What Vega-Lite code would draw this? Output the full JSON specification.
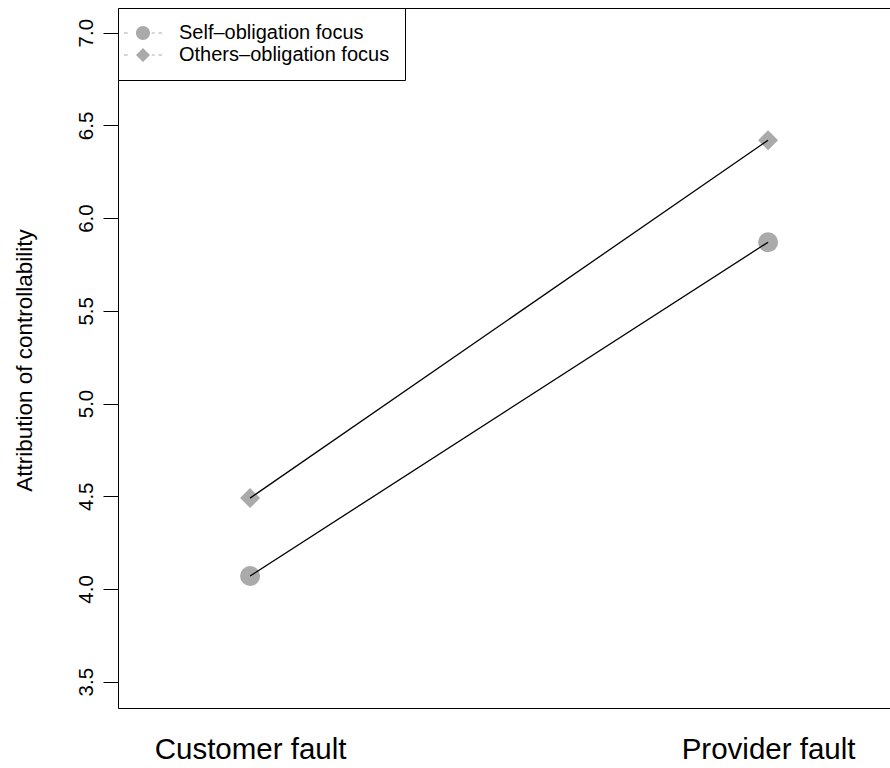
{
  "$schema": "https://vega.github.io/schema/vega-lite/v6.json",
  "width": 772,
  "height": 700,
  "autosize": "none",
  "padding": {"left": 118, "top": 8, "right": 0, "bottom": 60},
  "background": "white",
  "config": {
    "font": "Liberation Sans",
    "view": {"stroke": null},
    "axis": {"grid": false, "domainColor": "black", "domainWidth": 1, "tickColor": "black", "labelColor": "black", "titleColor": "black", "titleFontWeight": "normal", "labelLimit": 0}
  },
  "data": {
    "values": [
      {"fault": "Customer fault", "group": "Self–obligation focus", "value": 4.07},
      {"fault": "Provider fault", "group": "Self–obligation focus", "value": 5.87},
      {"fault": "Customer fault", "group": "Others–obligation focus", "value": 4.49},
      {"fault": "Provider fault", "group": "Others–obligation focus", "value": 6.42}
    ]
  },
  "layer": [
    {
      "mark": {"type": "point", "filled": true, "color": "#aaaaaa", "opacity": 1, "size": 400},
      "encoding": {
        "x": {
          "field": "fault", "type": "nominal", "sort": ["Customer fault", "Provider fault"],
          "scale": {"type": "point", "padding": 0.2452, "align": 0.52},
          "axis": {"orient": "bottom", "title": null, "ticks": false, "tickSize": 0, "labelFontSize": 29.5, "labelPadding": 50, "labelBaseline": "alphabetic", "labelAngle": 0, "labelLimit": 0}
        },
        "y": {
          "field": "value", "type": "quantitative",
          "scale": {"domain": [3.358, 7.133], "nice": false, "zero": false},
          "axis": {
            "title": "Attribution of controllability", "titleFontSize": 22.5, "titleAngle": -90,
            "titleX": -94, "titleY": 352, "titleAlign": "center", "titleBaseline": "middle",
            "values": [3.5, 4, 4.5, 5, 5.5, 6, 6.5, 7], "format": ".1f",
            "tickSize": 15, "labelFontSize": 20.5, "labelAngle": -90, "labelAlign": "center",
            "labelBaseline": "alphabetic", "labelPadding": 11
          }
        },
        "shape": {
          "field": "group", "type": "nominal",
          "scale": {"domain": ["Self–obligation focus", "Others–obligation focus"], "range": ["circle", "diamond"]},
          "legend": null
        }
      }
    },
    {
      "mark": {"type": "line", "color": "black", "strokeWidth": 1.3},
      "encoding": {
        "x": {"field": "fault", "type": "nominal", "sort": ["Customer fault", "Provider fault"], "axis": null},
        "y": {"field": "value", "type": "quantitative", "title": "Attribution of controllability"},
        "detail": {"field": "group"}
      }
    },
    {
      "mark": {"type": "point", "filled": true, "color": "#aaaaaa", "opacity": 0},
      "encoding": {
        "x": {
          "field": "fault", "type": "nominal", "sort": ["Customer fault", "Provider fault"],
          "axis": {"orient": "top", "title": null, "labels": false, "ticks": false, "domain": true}
        },
        "y": {"field": "value", "type": "quantitative", "title": "Attribution of controllability"},
        "shape": {
          "field": "group", "type": "nominal",
          "scale": {
            "domain": ["Self–obligation focus", "Others–obligation focus"],
            "range": [
              "M-2.375,-0.07L-1.9,-0.07L-1.9,0.07L-2.375,0.07Z M1.1,-0.07L1.45,-0.07L1.45,0.07L1.1,0.07Z M1.95,-0.07L2.375,-0.07L2.375,0.07L1.95,0.07Z M0.875,0A0.875,0.875,0,1,1,-0.875,0A0.875,0.875,0,1,1,0.875,0Z",
              "M-2.375,-0.07L-1.9,-0.07L-1.9,0.07L-2.375,0.07Z M1.1,-0.07L1.45,-0.07L1.45,0.07L1.1,0.07Z M1.95,-0.07L2.375,-0.07L2.375,0.07L1.95,0.07Z M0,-0.875L0.875,0L0,0.875L-0.875,0Z"
            ]
          },
          "legend": {
            "orient": "top-left", "offset": 0, "title": null, "padding": 15,
            "strokeColor": "black", "fillColor": "white",
            "symbolSize": 256, "symbolOpacity": 1, "symbolFillColor": "#aaaaaa", "symbolStrokeWidth": 0,
            "labelFontSize": 20, "labelOffset": 26, "labelLimit": 0, "rowPadding": 2, "labelColor": "black"
          }
        }
      }
    }
  ],
  "resolve": {"scale": {"shape": "independent"}, "axis": {"x": "independent"}}
}
